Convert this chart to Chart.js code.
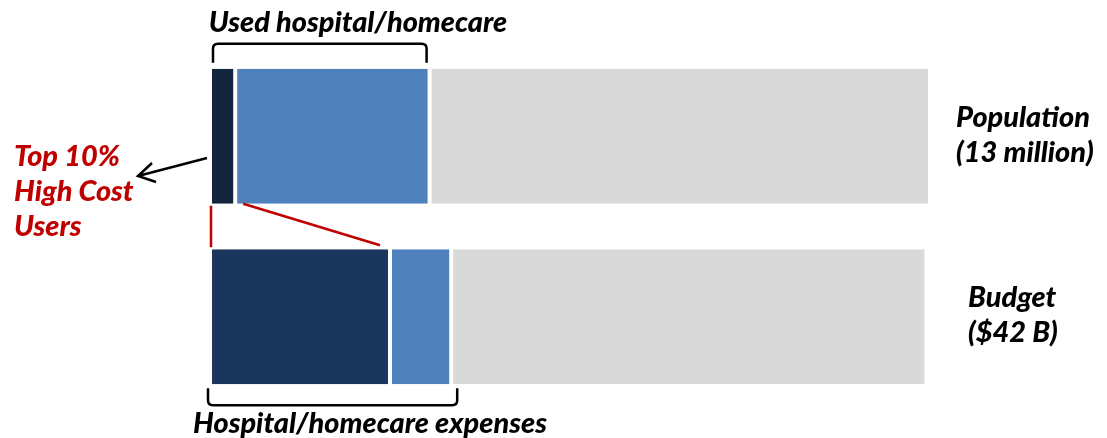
<html>
<head>
    <title>Population vs Budget</title>
    <script src="https://cdn.jsdelivr.net/npm/chart.js"></script>
    <style>
        body { margin: 0; background: #fff; }
        #wrap { width: 1107px; height: 438px; position: relative; }
    </style>
</head>
<body>
    <div id="wrap"><canvas id="barChart"></canvas></div>
    <script>
        // share of each total, in percent
        const rows = ['Population', 'Budget'];
        const topUsers = [3.5, 25];
        const otherUsers = [27, 8.5];
        const nonUsers = [69.5, 66];

        const rowLabels = [['Population', '(13 million)'], ['Budget', '($42 B)']];
        const redLabel = ['Top 10%', 'High Cost', 'Users'];

        const family = 'Lato';

        const notes = {
            id: 'notes',
            afterDraw(chart) {
                const ctx = chart.ctx;
                const dark = chart.getDatasetMeta(0).data;
                const mid = chart.getDatasetMeta(1).data;
                const grey = chart.getDatasetMeta(2).data;

                ctx.save();
                // size the text so the long caption is as wide as in the original
                ctx.font = 'italic 900 20px ' + family;
                const size = 20 * 354 / ctx.measureText('Hospital/homecare expenses').width;
                ctx.font = 'italic 900 ' + size.toFixed(1) + 'px ' + family;
                ctx.textBaseline = 'middle';

                // row labels on the right
                ctx.fillStyle = '#000';
                ctx.textAlign = 'left';
                const lx = [956, 968];
                rowLabels.forEach((lines, i) => {
                    const cy = grey[i].y;
                    lines.forEach((t, k) => ctx.fillText(t, lx[i], cy - 19 + k * 35));
                });

                // brackets
                ctx.strokeStyle = '#000';
                ctx.lineWidth = 2.5;
                function bracket(x0, x1, yEdge, yBar) {
                    const r = 5, d = yBar > yEdge ? 1 : -1;
                    ctx.beginPath();
                    ctx.moveTo(x0, yBar);
                    ctx.lineTo(x0, yEdge + d * r);
                    ctx.quadraticCurveTo(x0, yEdge, x0 + r, yEdge);
                    ctx.lineTo(x1 - r, yEdge);
                    ctx.quadraticCurveTo(x1, yEdge, x1, yEdge + d * r);
                    ctx.lineTo(x1, yBar);
                    ctx.stroke();
                }
                const t0 = dark[0].y - dark[0].height / 2;
                bracket(dark[0].base + 3, mid[0].x - 3, t0 - 25, t0 - 6);
                const b1 = dark[1].y + dark[1].height / 2;
                bracket(dark[1].base - 2, mid[1].x + 6, b1 + 21, b1 + 4);

                ctx.textAlign = 'center';
                ctx.fillText('Used hospital/homecare', 358, 23);
                ctx.fillText('Hospital/homecare expenses', 370, 424);

                // red text and connector lines
                ctx.fillStyle = '#C00000';
                ctx.textAlign = 'left';
                redLabel.forEach((t, k) => ctx.fillText(t, 14, 157 + k * 35));

                ctx.strokeStyle = '#C00000';
                ctx.lineWidth = 2.5;
                const tb = dark[0].y + dark[0].height / 2;
                const bt = dark[1].y - dark[1].height / 2;
                ctx.beginPath();
                ctx.moveTo(dark[0].base + 1, tb + 2);
                ctx.lineTo(dark[1].base + 1, bt - 2);
                ctx.moveTo(dark[0].x + 8, tb);
                ctx.lineTo(dark[1].x - 10, bt - 4);
                ctx.stroke();

                // black arrow to the red text
                ctx.strokeStyle = '#000';
                ctx.lineWidth = 2.5;
                ctx.beginPath();
                ctx.moveTo(207, 158);
                ctx.lineTo(138, 176);
                ctx.moveTo(152, 163);
                ctx.lineTo(138, 176);
                ctx.lineTo(156, 182);
                ctx.stroke();

                ctx.restore();
            }
        };

        const side = { left: 2, right: 2, top: 0, bottom: 0 };

        new Chart(document.getElementById('barChart'), {
            type: 'bar',
            data: {
                labels: rows,
                datasets: [
                    { data: topUsers, backgroundColor: ['#13253F', '#1A365D'] },
                    { data: otherUsers, backgroundColor: '#4F81BD' },
                    { data: nonUsers, backgroundColor: '#D9D9D9' }
                ].map(d => Object.assign(d, {
                    borderColor: '#fff',
                    borderWidth: side,
                    borderSkipped: false,
                    barPercentage: 0.748,
                    categoryPercentage: 1
                }))
            },
            options: {
                indexAxis: 'y',
                responsive: true,
                maintainAspectRatio: false,
                animation: false,
                layout: { padding: { left: 210, right: 177, top: 46, bottom: 31 } },
                plugins: { legend: { display: false }, tooltip: { enabled: false } },
                scales: {
                    x: { stacked: true, min: 0, max: 100, display: false },
                    y: { stacked: true, display: false }
                }
            },
            plugins: [notes]
        });
    </script>
</body>
</html>
